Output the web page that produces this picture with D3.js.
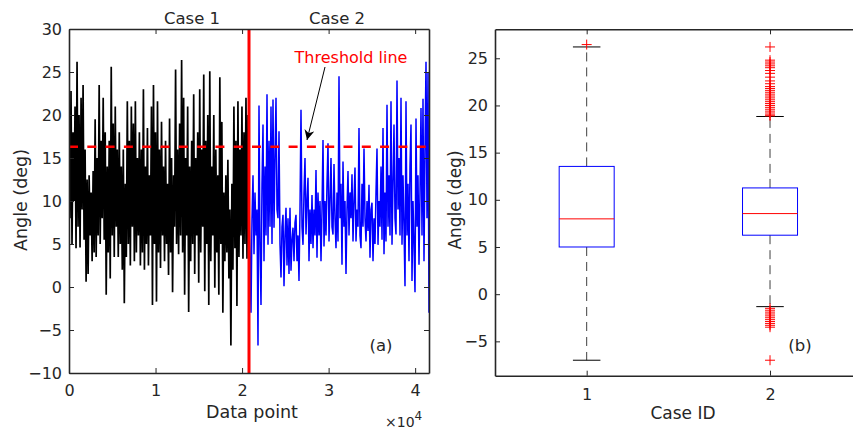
<!DOCTYPE html>
<html>
<head>
<meta charset="utf-8">
<script src="https://cdn.jsdelivr.net/npm/d3@7"></script>
<style>
  html, body { margin: 0; padding: 0; background: #fff; }
  svg { display: block; }
  text { font-family: "DejaVu Sans", "Liberation Sans", Arial, sans-serif; fill: #262626; }
</style>
</head>
<body>
<svg id="chart" width="853" height="431"></svg>
<script>
// ---------------- DATA ----------------
const case1Values = [
  19, 8, 22.8, 5, 18, 10, 21, 4.5, 26.2, 7, 20, 4.6, 22, 9, 23.5, 5.5, 16, 0.6, 12.5, 1.5,
  13, 6, 11, 3, 13.5, 4, 19.5, 3.5, 15, 6, 23.5, 5, 17, 8, 22, 5.5, 18, -0.9, 14, 4,
  17, 1, 25.6, 6, 19, 3.5, 21, 7, 16, 3.5, 18, 5, 14, 2, 16, -1.9, 12, 3.5, 21.6, 5,
  17, 2.5, 21, 7, 19, 3, 21.6, 4, 15, 6, 18, 2.5, 16, 4, 23, 2, 14, 5, 18.5, 2.5,
  13, 6, 21, -2.1, 23.5, 5, 18, -1.7, 21.6, 4, 16, 2.2, 19.2, 6, 14, 3, 17, 5, 12, 1.4,
  19.6, 4, 15, -0.6, 13, 7, 25.3, 5, 16, 3.8, 19, 6, 26.4, 4, 22, -0.9, 15, 6, 21, -2.9,
  14, 3, 17, 5, 22.4, 1.5, 15, 6, 18, 0.5, 23, 4, 16, 7, 24.7, -0.5, 17, 5, 20, -2.1,
  25.1, 3, 14, 6, 20, -0.1, 16, 4, 13, -0.9, 24.4, 5, 19.2, -3, 11, 3, 13, 4, 14.8, 1,
  9, -6.8, 12, 2, 21, 4.5, 17, -2.2, 21.6, 3.5, 16, 6, 21, 3.3, 18, 5, 22, 3.3, 20, 6
];
const case2Values = [
  10, 4, -3.0, 8, 13, 3.8, 11, 6, 9, -6.8, 21.1, 5, -2.1, 12, 18.9, 3, 14, 6, 22.4, 4.9,
  17, 7, 21, 5, 21.8, 6.9, 15, 22, 9, 8.0, 18.1, 5, 1.1, 7, 8.4, 0.1, 6, 9.2, 2.5, 8,
  1.5, 9.2, 1.9, 5.5, 6.9, 3, 7.5, 8.4, 3.0, 6, 0.7, 9, 20.6, 7, 4.9, 11, 15, 6.1, 10, 12.7,
  3, 9, 5, 10.7, 4.5, 9, 6, 13.6, 3.4, 11, 6, 10, 3.0, 9, 17.1, 4.7, 10, 6, 12, 16.7,
  5.3, 10, 15.0, 7, 6.1, 14.3, 8, 4.5, 11, 5.3, 24.5, 8, 12, 2.6, 14.6, 7, 10, 1.5, 9, 13.5,
  6, 11, 8, 13.1, 5.3, 10, 13.9, 5.3, 9, 7, 18.5, 6, 4.5, 12, 7, 16.1, 8, 5.3, 10, 6.5,
  11.9, 3.4, 9, 9.8, 3.0, 8, 5, 11, 16.1, 4.9, 10, 7, 14, 5.5, 18.5, 3.8, 11, 5.3, 21.2, 7,
  13, 6, 21.6, 4.9, 12, 18.9, 8, 6.1, 24, 9, 15, 6, 22.0, 4.9, 13, 7, 0.1, 21.6, 6, 12,
  3, 14, 18.9, 0.7, 10, 5, -0.6, 19.6, 7, 13, 2.6, 11, 20.8, 6, 21.9, 3.0, 16, 26.2, 8, 24.9,
  -3.0
];
const totalPoints = 41600;     // samples in the record
const splitPoint = 20800;      // boundary between Case 1 and Case 2
const thresholdValue = 16.3;   // threshold line (deg)
const xTicksA = [0, 10000, 20000, 30000, 40000];
const xTickLabelsA = ["0", "1", "2", "3", "4"];
const yTicksA = [-10, -5, 0, 5, 10, 15, 20, 25, 30];

// Panel (b): box-plot statistics per case
const boxCases = [1, 2];
const boxQ1 = [5.0, 6.25];
const boxMedian = [7.98, 8.54];
const boxQ3 = [13.54, 11.26];
const whiskerLow = [-7.0, -1.32];
const whiskerHigh = [26.2, 18.83];
const outliersCase1 = [26.45];
const outliersCase2 = [
  26.2, 24.8, 24.6, 24.4, 24.2, 24.0, 23.7, 23.4, 23.0, 22.6, 22.3, 22.0, 21.8, 21.6, 21.4,
  21.2, 21.0, 20.8, 20.6, 20.4, 20.2, 20.0, 19.8, 19.6, 19.4, 19.2, 19.0, 18.9,
  -1.5, -1.7, -1.9, -2.1, -2.3, -2.5, -2.7, -2.9, -3.1, -3.3, -3.5, -7.0
];
const yTicksB = [-5, 0, 5, 10, 15, 20, 25];

// ---------------- DRAW ----------------
const svg = d3.select("#chart");
const AX = "#262626";
const FONT = "'DejaVu Sans', 'Liberation Sans', Arial, sans-serif";
const FONT_TICK = 16;

// ===== Panel (a) =====
const a = { left: 69, right: 429, top: 29, bottom: 373 };
const xA = d3.scaleLinear().domain([0, totalPoints]).range([a.left, a.right]);
const yA = d3.scaleLinear().domain([-10, 30]).range([a.bottom, a.top]);

svg.append("clipPath").attr("id", "clipA").append("rect")
  .attr("x", a.left).attr("y", a.top).attr("width", a.right - a.left).attr("height", a.bottom - a.top);

const gA = svg.append("g");
const plotA = gA.append("g").attr("clip-path", "url(#clipA)");

const step1 = splitPoint / (case1Values.length - 1);
const step2 = (totalPoints - splitPoint) / (case2Values.length - 1);
const pts1 = case1Values.map((v, i) => [i * step1, v]);
const pts2 = case2Values.map((v, i) => [splitPoint + i * step2, v]);
const line = d3.line().x(d => xA(d[0])).y(d => yA(d[1]));

plotA.append("path").datum(pts1).attr("d", line)
  .attr("fill", "none").attr("stroke", "#000").attr("stroke-width", 1.7).attr("stroke-linejoin", "bevel");
plotA.append("path").datum(pts2).attr("d", line)
  .attr("fill", "none").attr("stroke", "#0000ff").attr("stroke-width", 1.5).attr("stroke-linejoin", "bevel");

// threshold dashed line
plotA.append("line")
  .attr("x1", xA(0)).attr("x2", xA(totalPoints))
  .attr("y1", yA(thresholdValue)).attr("y2", yA(thresholdValue))
  .attr("stroke", "#ff0000").attr("stroke-width", 2.5).attr("stroke-dasharray", "9,9.3");

// split vertical line
plotA.append("line")
  .attr("x1", xA(splitPoint)).attr("x2", xA(splitPoint))
  .attr("y1", a.top).attr("y2", a.bottom)
  .attr("stroke", "#ff0000").attr("stroke-width", 3);

// axes (a)
const axBottomA = d3.axisBottom(xA).tickValues(xTicksA).tickFormat((d, i) => xTickLabelsA[i]).tickSizeInner(-5).tickSizeOuter(0).tickPadding(12);
const axTopA = d3.axisTop(xA).tickValues(xTicksA).tickFormat("").tickSizeInner(-5).tickSizeOuter(0);
const axLeftA = d3.axisLeft(yA).tickValues(yTicksA).tickSizeInner(-5).tickSizeOuter(0).tickPadding(7);
const axRightA = d3.axisRight(yA).tickValues(yTicksA).tickFormat("").tickSizeInner(-5).tickSizeOuter(0);

function styleAxis(g) {
  g.selectAll(".domain").attr("stroke", AX).attr("stroke-width", 1.6);
  g.selectAll(".tick line").attr("stroke", AX).attr("stroke-width", 1);
  g.selectAll(".tick text").attr("fill", AX).style("font-size", FONT_TICK + "px").style("font-family", FONT);
}
gA.append("g").attr("transform", `translate(0,${a.bottom})`).call(axBottomA).call(styleAxis);
gA.append("g").attr("transform", `translate(0,${a.top})`).call(axTopA).call(styleAxis);
gA.append("g").attr("transform", `translate(${a.left},0)`).call(axLeftA).call(styleAxis);
gA.append("g").attr("transform", `translate(${a.right},0)`).call(axRightA).call(styleAxis);

// labels (a)
gA.append("text").attr("x", 252).attr("y", 418).attr("text-anchor", "middle")
  .style("font-size", "17.5px").text("Data point");
const exp = gA.append("text").attr("x", 385).attr("y", 427).style("font-size", "14px");
exp.append("tspan").text("×10");
exp.append("tspan").attr("dy", -7).style("font-size", "12px").text("4");
gA.append("text").attr("transform", "translate(27,200) rotate(-90)").attr("text-anchor", "middle")
  .style("font-size", "17.5px").text("Angle (deg)");
gA.append("text").attr("x", 192).attr("y", 24).attr("text-anchor", "middle").style("font-size", "16.5px").text("Case 1");
gA.append("text").attr("x", 337).attr("y", 24).attr("text-anchor", "middle").style("font-size", "16.5px").text("Case 2");
gA.append("text").attr("x", 351).attr("y", 63).attr("text-anchor", "middle").style("font-size", "16px")
  .style("fill", "#ff0000").text("Threshold line");
gA.append("text").attr("x", 381).attr("y", 351).attr("text-anchor", "middle").style("font-size", "16.5px").text("(a)");

// arrow
svg.append("defs").append("marker").attr("id", "arrowHead")
  .attr("viewBox", "0 0 10 10").attr("refX", 10).attr("refY", 5)
  .attr("markerWidth", 10).attr("markerHeight", 10).attr("markerUnits", "userSpaceOnUse")
  .attr("orient", "auto")
  .append("path").attr("d", "M0,0 L10,5 L0,10 L3,5 Z").attr("fill", "#000");
gA.append("line").attr("x1", 325).attr("y1", 67).attr("x2", 307).attr("y2", 140)
  .attr("stroke", "#000").attr("stroke-width", 1).attr("marker-end", "url(#arrowHead)");

// ===== Panel (b) =====
const b = { left: 495, right: 861.7, top: 29.3, bottom: 375.7 };
const xB = d3.scaleLinear().domain([0.5, 2.5]).range([b.left, b.right]);
const yB = d3.scaleLinear().domain([-8.64, 28.07]).range([b.bottom, b.top]);
const gB = svg.append("g");
const boxHalf = 0.15, capHalf = 0.075;
const outliers = [outliersCase1, outliersCase2];

boxCases.forEach((c, i) => {
  const cx = xB(c);
  // whiskers (dashed)
  gB.append("line").attr("x1", cx).attr("x2", cx).attr("y1", yB(boxQ3[i])).attr("y2", yB(whiskerHigh[i]))
    .attr("stroke", "#000").attr("stroke-width", 1).attr("stroke-dasharray", "9,6").attr("opacity", 0.75);
  gB.append("line").attr("x1", cx).attr("x2", cx).attr("y1", yB(boxQ1[i])).attr("y2", yB(whiskerLow[i]))
    .attr("stroke", "#000").attr("stroke-width", 1).attr("stroke-dasharray", "9,6").attr("opacity", 0.75);
  // caps
  [whiskerHigh[i], whiskerLow[i]].forEach(v => {
    gB.append("line").attr("x1", xB(c - capHalf)).attr("x2", xB(c + capHalf)).attr("y1", yB(v)).attr("y2", yB(v))
      .attr("stroke", "#000").attr("stroke-width", 1);
  });
  // box
  gB.append("rect").attr("x", xB(c - boxHalf)).attr("width", xB(c + boxHalf) - xB(c - boxHalf))
    .attr("y", yB(boxQ3[i])).attr("height", yB(boxQ1[i]) - yB(boxQ3[i]))
    .attr("fill", "none").attr("stroke", "#0000ff").attr("stroke-width", 1);
  // median
  gB.append("line").attr("x1", xB(c - boxHalf)).attr("x2", xB(c + boxHalf)).attr("y1", yB(boxMedian[i])).attr("y2", yB(boxMedian[i]))
    .attr("stroke", "#ff0000").attr("stroke-width", 1);
  // outliers
  gB.selectAll(null).data(outliers[i]).enter().append("path")
    .attr("d", d => `M${cx - 5},${yB(d)}H${cx + 5}M${cx},${yB(d) - 5}V${yB(d) + 5}`)
    .attr("stroke", "#ff0000").attr("stroke-width", 1).attr("fill", "none");
});

const axBottomB = d3.axisBottom(xB).tickValues(boxCases).tickFormat(d3.format("d")).tickSizeInner(-5).tickSizeOuter(0).tickPadding(13);
const axTopB = d3.axisTop(xB).tickValues(boxCases).tickFormat("").tickSizeInner(-5).tickSizeOuter(0);
const axLeftB = d3.axisLeft(yB).tickValues(yTicksB).tickSizeInner(-5).tickSizeOuter(0).tickPadding(7);
gB.append("g").attr("transform", `translate(0,${b.bottom})`).call(axBottomB).call(styleAxis);
gB.append("g").attr("transform", `translate(0,${b.top})`).call(axTopB).call(styleAxis);
gB.append("g").attr("transform", `translate(${b.left},0)`).call(axLeftB).call(styleAxis);

gB.append("text").attr("x", 683).attr("y", 419).attr("text-anchor", "middle").style("font-size", "17px").text("Case ID");
gB.append("text").attr("transform", "translate(461,200) rotate(-90)").attr("text-anchor", "middle")
  .style("font-size", "17px").text("Angle (deg)");
gB.append("text").attr("x", 800).attr("y", 351).attr("text-anchor", "middle").style("font-size", "16.5px").text("(b)");
</script>
</body>
</html>
